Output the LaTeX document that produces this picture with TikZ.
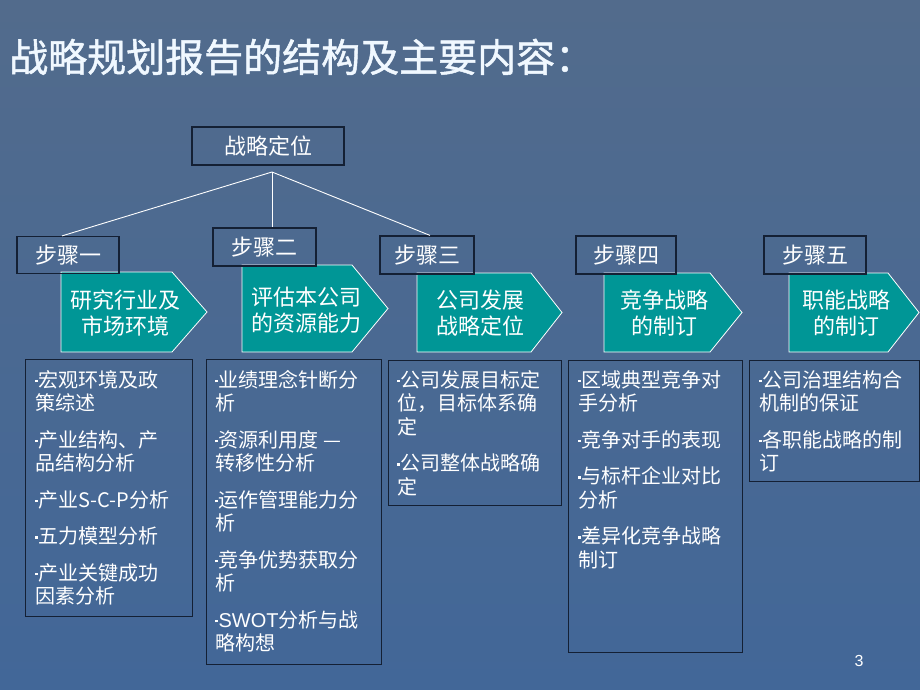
\documentclass[tikz,border=0pt]{standalone}
\usepackage{fontspec}
\setmainfont{Noto Sans CJK SC}
\newfontfamily\titlefont[FakeBold=1.2]{Noto Sans CJK SC}
\newfontfamily\arialfont{Liberation Sans}
\usepackage{tikz}
\usetikzlibrary{positioning}

\definecolor{bgtop}{RGB}{82,107,140}
\definecolor{bgbottom}{RGB}{66,103,152}
\definecolor{boxline}{RGB}{20,32,52}
\definecolor{stagefill}{RGB}{0,150,150}
\definecolor{titlewhite}{RGB}{240,248,255}

\newcommand{\dotmark}{\raisebox{5pt}{\rule{2.4pt}{2.4pt}}\hspace{1pt}}

\begin{document}
\begin{tikzpicture}[x=1pt, y=-1pt,
    stepbox/.style={draw=boxline, line width=1.2pt, inner sep=0pt, minimum height=38pt, text=white, font=\fontsize{22}{26}\selectfont},
    listbox/.style={draw=boxline, line width=1.2pt, inner sep=0pt, anchor=north west},
    listtext/.style={anchor=north west, inner sep=0pt, align=left, text=white, font=\fontsize{20}{23.5}\selectfont},
    stage/.style={fill=stagefill, draw=white, line width=0.8pt},
    stagetext/.style={text=white, align=center, inner sep=0pt, font=\fontsize{22}{26.5}\selectfont},
    link/.style={draw=white, line width=0.9pt}]
    \shade[top color=bgtop, bottom color=bgbottom] (0,0) rectangle (920,690);
    \useasboundingbox (0,0) rectangle (920,690);

    % title
    \node[anchor=west, inner sep=0pt, text=titlewhite, font=\titlefont\fontsize{39}{44}\selectfont] (title) at (9,57) {战略规划报告的结构及主要内容：};

    % top of the tree
    \node[stepbox, minimum width=152pt] (pos) at (268,146) {战略定位};
    \coordinate (apex) at (272,172);

    % stages
    \draw[stage] (61,272) -- (172,272) -- (207,312) -- (172,352) -- (61,352) -- cycle;
    \draw[stage] (242,265) -- (352,265) -- (388,308.5) -- (352,352) -- (242,352) -- cycle;
    \draw[stage] (417,273) -- (531,273) -- (562,312.5) -- (531,352) -- (417,352) -- cycle;
    \draw[stage] (604,273) -- (710,273) -- (742,312.5) -- (710,352) -- (604,352) -- cycle;
    \draw[stage] (789,273) -- (888,273) -- (919,312.5) -- (888,352) -- (789,352) -- cycle;
    \node[stagetext] (t1) at (125,313) {研究行业及\\市场环境};
    \node[stagetext] (t2) at (306,310) {评估本公司\\的资源能力};
    \node[stagetext] (t3) at (480,313) {公司发展\\战略定位};
    \node[stagetext] (t4) at (664,313) {竞争战略\\的制订};
    \node[stagetext] (t5) at (846,313) {职能战略\\的制订};

    % step labels
    \node[stepbox, minimum width=102pt, minimum height=37pt] (s1) at (68,255) {步骤一};
    \node[stepbox, minimum width=103pt] (s2) at (264.5,247) {步骤二};
    \node[stepbox, minimum width=94pt] (s3) at (427,255) {步骤三};
    \node[stepbox, minimum width=100pt] (s4) at (626,255) {步骤四};
    \node[stepbox, minimum width=102pt] (s5) at (815,255) {步骤五};

    \draw[link] (apex) -- ([xshift=-6pt]s1.north);
    \draw[link] (apex) -- (apex |- s2.north);
    \draw[link] (apex) -- ([xshift=3pt]s3.north);

    % content boxes
    \node[listbox, minimum width=167pt, minimum height=257pt] (b1) at (25,359) {};
    \node[listbox, minimum width=175pt, minimum height=305pt] (b2) at (206,359) {};
    \node[listbox, minimum width=173pt, minimum height=145pt] (b3) at (388,360) {};
    \node[listbox, minimum width=174pt, minimum height=292pt] (b4) at (568,360) {};
    \node[listbox, minimum width=170pt, minimum height=121pt] (b5) at (749,360) {};

    \node[listtext] (l1) at (35,370) {\dotmark{}宏观环境及政\\策综述\\[13pt]\dotmark{}产业结构、产\\品结构分析\\[13pt]\dotmark{}产业S-C-P分析\\[13pt]\dotmark{}五力模型分析\\[13pt]\dotmark{}产业关键成功\\因素分析};
    \node[listtext] (l2) at (215,370) {\dotmark{}业绩理念针断分\\析\\[13pt]\dotmark{}资源利用度 —\\转移性分析\\[13pt]\dotmark{}运作管理能力分\\析\\[13pt]\dotmark{}竞争优势获取分\\析\\[13pt]\dotmark{}{\arialfont SWOT}分析与战\\略构想};
    \node[listtext] (l3) at (397,370) {\dotmark{}公司发展目标定\\位，目标体系确\\定\\[13pt]\dotmark{}公司整体战略确\\定};
    \node[listtext] (l4) at (578,370) {\dotmark{}区域典型竞争对\\手分析\\[13pt]\dotmark{}竞争对手的表现\\[13pt]\dotmark{}与标杆企业对比\\分析\\[13pt]\dotmark{}差异化竞争战略\\制订};
    \node[listtext] (l5) at (759,370) {\dotmark{}公司治理结构合\\机制的保证\\[13pt]\dotmark{}各职能战略的制\\订};

    % page number
    \node[text=white, inner sep=0pt, font=\arialfont\fontsize{16}{18}\selectfont] (pnum) at (859,661) {3};
\end{tikzpicture}
\end{document}
